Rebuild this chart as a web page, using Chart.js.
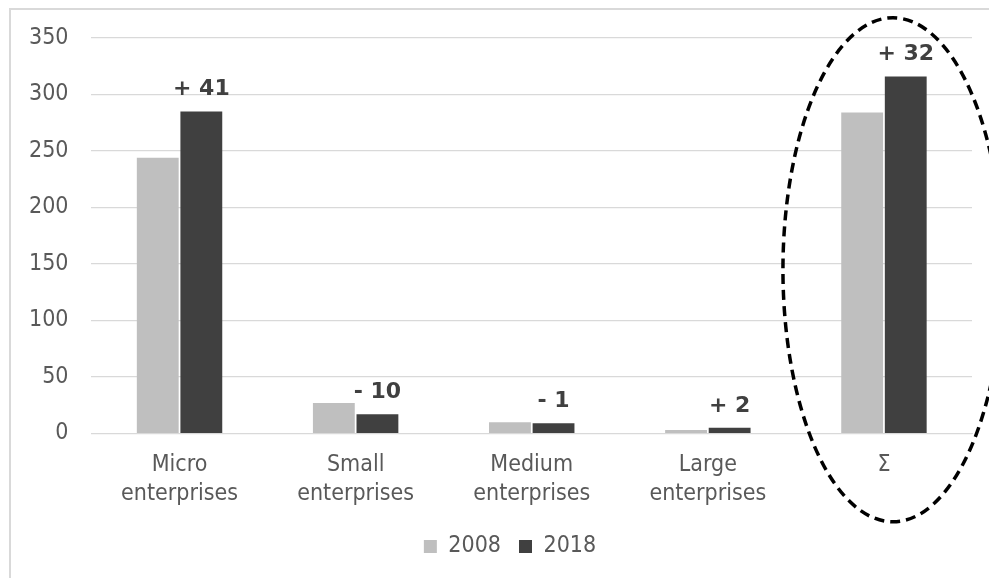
<!DOCTYPE html>
<html>
<head>
<meta charset="utf-8">
<script src="https://cdn.jsdelivr.net/npm/chart.js@4.4.1/dist/chart.umd.min.js"></script>
<style>
  html, body { margin: 0; padding: 0; background: #fff; }
  #wrap { width: 989px; height: 578px; position: relative; }
</style>
</head>
<body>
<div id="wrap"><canvas id="myChart"></canvas></div>
<script>
// chart data
const categories = [['Micro', 'enterprises'], ['Small', 'enterprises'], ['Medium', 'enterprises'], ['Large', 'enterprises'], 'Σ'];
const values2008 = [244, 27, 10, 3, 284];
const values2018 = [285, 17, 9, 5, 316];
const changeLabels = ['+ 41', '- 10', '- 1', '+ 2', '+ 32'];
const seriesNames = ['2008', '2018'];
const yMax = 350;
const yStep = 50;

let light_grey = '#bfbfbf';
let dark_grey = '#404040';
let text_colour = '#595959';
let grid_colour = '#d9d9d9';
let label_font = '"Liberation Sans Narrow", "DejaVu Sans Condensed"';

// white background + frame of the chart
const framePlugin = {
    id: 'frame',
    afterLayout(chart) {
        // legend sits a bit right of the canvas centre in the original
        if (chart.legend) {
            chart.legend.left += 21;
            chart.legend.right += 21;
        }
    },
    beforeDraw(chart) {
        const ctx = chart.ctx;
        ctx.save();
        ctx.fillStyle = '#fff';
        ctx.fillRect(0, 0, chart.width, chart.height);
        ctx.strokeStyle = grid_colour;
        ctx.lineWidth = 2;
        ctx.strokeRect(10, 9, chart.width + 20, chart.height + 20);
        ctx.restore();
    }
};

// change labels above the 2018 bars
const changePlugin = {
    id: 'changes',
    afterDatasetsDraw(chart) {
        const ctx = chart.ctx;
        const meta = chart.getDatasetMeta(1);
        ctx.save();
        ctx.font = 'bold 22px "DejaVu Sans"';
        ctx.fillStyle = dark_grey;
        ctx.textAlign = 'center';
        ctx.textBaseline = 'alphabetic';
        meta.data.forEach((bar, i) => {
            ctx.fillText(changeLabels[i], bar.x, bar.y - 16);
        });
        ctx.restore();
    }
};

// dashed ellipse around the total
const ellipsePlugin = {
    id: 'ellipse',
    afterDraw(chart) {
        const ctx = chart.ctx;
        const x = chart.scales.x;
        const y = chart.scales.y;
        const cx = x.getPixelForValue(4) + 9;
        const cy = (y.getPixelForValue(yMax) + y.getPixelForValue(0)) / 2 + 34;
        ctx.save();
        ctx.strokeStyle = '#000';
        ctx.lineWidth = 3.5;
        ctx.setLineDash([10, 6]);
        ctx.beginPath();
        ctx.ellipse(cx, cy, 110, 252, 0, 0, Math.PI * 2);
        ctx.stroke();
        ctx.restore();
    }
};

var ctx = document.getElementById('myChart').getContext('2d');

new Chart(ctx, {
    type: 'bar',
    data: {
        labels: categories,
        datasets: [{
            label: seriesNames[0],
            data: values2008,
            backgroundColor: light_grey,
            barPercentage: 0.96,
            categoryPercentage: 0.495
        }, {
            label: seriesNames[1],
            data: values2018,
            backgroundColor: dark_grey,
            barPercentage: 0.96,
            categoryPercentage: 0.495
        }]
    },
    options: {
        responsive: true,
        maintainAspectRatio: false,
        animation: false,
        layout: {
            padding: { top: 38, left: 6, right: 17, bottom: 10 }
        },
        scales: {
            x: {
                grid: { display: false },
                border: { display: true, color: grid_colour, width: 1 },
                ticks: {
                    color: text_colour,
                    padding: 9,
                    maxRotation: 0,
                    font: { family: label_font, size: 23, lineHeight: 1.25 }
                }
            },
            y: {
                min: 0,
                max: yMax,
                grid: { color: grid_colour, lineWidth: 1.2, drawTicks: false },
                border: { display: false },
                ticks: {
                    stepSize: yStep,
                    color: text_colour,
                    padding: 23,
                    font: { family: '"DejaVu Sans Condensed"', size: 23 }
                }
            }
        },
        plugins: {
            legend: {
                position: 'bottom',
                labels: {
                    color: text_colour,
                    boxWidth: 13,
                    boxHeight: 13,
                    padding: 18,
                    font: { family: label_font, size: 23 }
                }
            },
            tooltip: { enabled: false }
        }
    },
    plugins: [framePlugin, changePlugin, ellipsePlugin]
});
</script>
</body>
</html>
